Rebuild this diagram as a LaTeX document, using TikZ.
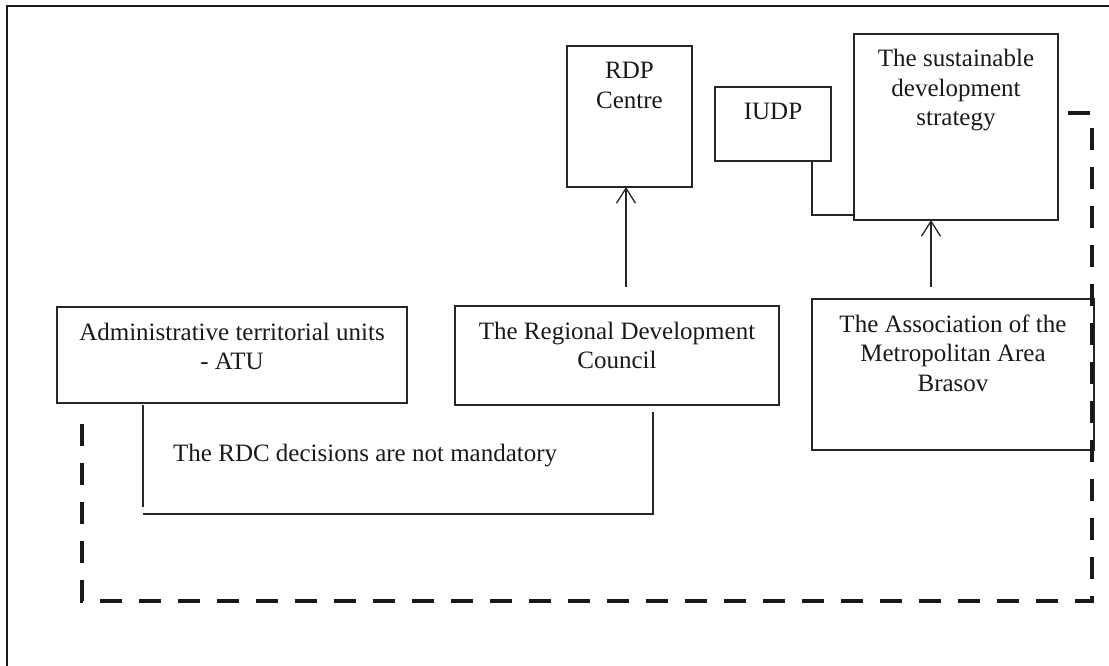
\documentclass[tikz,border=0pt]{standalone}
\usepackage{fontspec}
\setmainfont{Liberation Serif}
\usetikzlibrary{arrows.meta,calc}
\begin{document}
\begin{tikzpicture}[x=1pt,y=-1pt,
  box/.style={draw=black!85,line width=1.2pt,inner sep=0pt,outer sep=0pt},
  txt/.style={inner sep=0pt,align=center,font=\fontsize{25}{29.5}\selectfont,text=black!90},
  arr/.style={draw=black!85,line width=1.3pt,-{Straight Barb[length=15pt,width=19pt,line width=1.3pt]}},
  link/.style={draw=black!85,line width=1.4pt},
  dashline/.style={draw=black!90,line width=4.5pt,dash pattern=on 22pt off 17pt},
  frame/.style={draw=black!90,line width=1.8pt}]
\useasboundingbox (0,0) rectangle (1109,666);
% outer frame
\draw[frame] (7,666) -- (7,6) -- (1109,6);
% boxes
\node[box,minimum width=125pt,minimum height=141pt] (rdp) at (629.5,116.5) {};
\node[box,minimum width=116pt,minimum height=74pt] (iudp) at (773,124) {};
\node[box,minimum width=204pt,minimum height=186pt] (sds) at (956,127) {};
\node[box,minimum width=350pt,minimum height=96pt] (atu) at (232,355) {};
\node[box,minimum width=324pt,minimum height=99pt] (rdc) at (617,355.5) {};
\node[box,minimum width=282pt,minimum height=151pt] (ama) at (953,374.5) {};
% texts (base anchor = baseline of the last line)
\node[txt,anchor=base] (rdpt) at ([yshift=-62.5pt]rdp.north) {RDP\\Centre};
\node[txt,anchor=base] (iudpt) at ([yshift=-33pt]iudp.north) {IUDP};
\node[txt,anchor=base] (sdst) at ([yshift=-92pt]sds.north) {The sustainable\\development\\strategy};
\node[txt,anchor=base] (atut) at ([yshift=-62.5pt]atu.north) {Administrative territorial units\\- ATU};
\node[txt,anchor=base] (rdct) at ([yshift=-62.5pt]rdc.north) {The Regional Development\\Council};
\node[txt,anchor=base] (amat) at ([yshift=-92pt]ama.north) {The Association of the\\Metropolitan Area\\Brasov};
\node[txt,anchor=base west] (note) at (173,461) {The RDC decisions are not mandatory};
% connectors
\draw[arr] ([xshift=9pt,yshift=19pt]rdc.north) -- ([xshift=-3.5pt]rdp.south);
\draw[arr] ([xshift=-22pt,yshift=12pt]ama.north) -- ([xshift=-25pt]sds.south);
\draw[link] ([xshift=39pt]iudp.south) |- ([yshift=-88pt]sds.west);
% bracket
\coordinate (bl) at (143,514);
\draw[link] ([xshift=-89pt,yshift=-2pt]atu.south) -- ++(0,102);
\draw[link] ([xshift=36pt,yshift=-7pt]rdc.south) |- (bl);
% dashed grouping line
\coordinate (d1) at (1068,113);
\coordinate (d2) at (1092,113);
\coordinate (d3) at (1092,601);
\coordinate (d4) at (82,601);
\coordinate (d5) at (82,413);
\draw[dashline] (d1) -- (d2) -- (d3) -- (d4) -- (d5);
\end{tikzpicture}
\end{document}
